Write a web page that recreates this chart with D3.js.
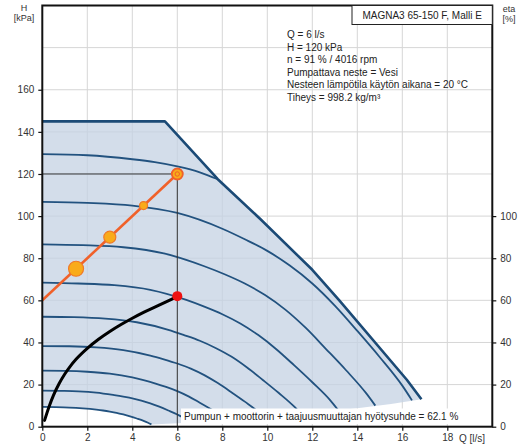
<!DOCTYPE html>
<html>
<head>
<meta charset="utf-8">
<script src="https://cdn.jsdelivr.net/npm/d3@7"></script>
<style>
  body { margin: 0; background: #fff; }
  svg { font-family: "Liberation Sans", Arial, sans-serif; }
</style>
</head>
<body>
<div id="chart"></div>
<script>
// tick values
const qTicks = [0, 2, 4, 6, 8, 10, 12, 14, 16, 18];
const hTicks = [0, 20, 40, 60, 80, 100, 120, 140, 160];
const etaTicks = [0, 20, 40, 60, 80, 100];
const qGrid = [2, 4, 6, 8, 10, 12, 14, 16, 18];
const hGrid = [20, 40, 60, 80, 100, 120, 140, 160, 180];

// max curve [Q, H]
const maxCurve = [[0, 145], [5.45, 145], [7.8, 117.5], [9.7, 98.5], [12, 74.5], [13.2, 60], [16.2, 22.3], [16.85, 13]];

// speed curves [Q, H], top to bottom
const curveA = [[0, 129.4], [2, 128.9], [4, 127], [5, 125.6], [6, 123.6], [7, 120.8], [7.8, 117.5]];
const curveB = [[0, 106.8], [2, 106.3], [4, 105], [6, 101.5], [8, 94], [9, 89], [10, 83.5], [11, 76.5],
  [12, 68], [13, 57.5], [14, 45.5], [15, 33], [16, 19.5], [16.43, 12.5]];
const curveC = [[0, 86.6], [1.8, 86.2], [3.6, 85.2], [5.4, 82.3], [7.2, 76.2], [8.1, 72.4], [9, 68], [9.9, 62.5],
  [10.8, 55.6], [11.7, 47], [12.6, 37], [13.5, 26.8], [14.4, 15.8], [14.8, 10]];
const curveD = [[0, 68.4], [1.6, 68], [3.2, 67.2], [4.8, 65], [6.4, 60.2], [7.2, 57], [8, 53.4], [8.8, 49],
  [9.6, 43.5], [10.4, 36.8], [11.2, 29.1], [12, 21.1], [12.8, 12.5], [13.14, 8]];
const curveE = [[0, 52.2], [1.4, 52], [2.8, 51.3], [4.2, 49.6], [5.6, 46], [6.3, 43.5], [7, 40.8], [7.7, 37.4],
  [8.4, 33.3], [9.1, 28.1], [9.8, 22.2], [10.5, 16.1], [11.2, 9.5], [11.5, 6.1]];
const curveF = [[0, 38.3], [1.2, 38.2], [2.4, 37.7], [3.6, 36.4], [4.8, 33.8], [5.4, 32], [6, 30], [6.6, 27.6],
  [7.2, 24.5], [7.8, 20.7], [8.4, 16.4], [9, 11.9], [9.6, 7], [9.84, 4.4]];
const curveG = [[0, 26.6], [1, 26.5], [2, 26.1], [3, 25.2], [4, 23.4], [4.5, 22.1], [5, 20.6], [5.5, 18.9],
  [6, 16.9], [6.5, 14.4], [7, 11.4], [7.5, 8.3], [8, 5], [8.2, 3.1]];
const curveH = [[0, 17.1], [0.8, 17], [1.6, 16.8], [2.4, 16.2], [3.2, 15], [3.6, 14.3], [4, 13.5], [4.4, 12.4],
  [4.8, 11.1], [5.2, 9.5], [5.6, 7.7], [6, 5.8], [6.4, 3.5], [6.6, 2]];
const curveI = [[0, 9.4], [0.6, 9.3], [1.2, 9.1], [1.8, 8.7], [2.4, 8.1], [2.7, 7.7], [3, 7.2], [3.3, 6.6],
  [3.6, 5.8], [3.9, 4.9], [4.2, 3.9], [4.5, 2.8], [4.7, 1.9], [4.85, 1.1]];

// lower boundary of the operating range [Q, H]
const lowerBound = [[4.85, 1.1], [6, 1.6], [8, 2.9], [10, 4.5], [12, 6.4], [14, 8.8], [15.5, 10.8], [16.85, 13]];

// efficiency curve [Q, eta]
const etaCurve = [[0.1, 3], [0.3, 9.5], [0.5, 15], [0.75, 20.5], [1, 25], [1.25, 28.8], [1.5, 32], [2, 37.2],
  [2.5, 41.5], [3, 45.2], [3.5, 48.5], [4, 51.5], [4.5, 54.3], [5, 56.8], [5.5, 59.3], [6, 61.8]];

// system curve and load profile points [Q, H]
const systemCurve = [[0, 60], [6, 120]];
const loadPoints = [[1.5, 75], [3, 90], [4.5, 105]];
const dutyPoint = [6, 120];
const etaPoint = [6, 62];

const title = "MAGNA3 65-150 F, Malli E";
const infoLines = [
  "Q = 6 l/s",
  "H = 120 kPa",
  "n = 91 % / 4016 rpm",
  "Pumpattava neste = Vesi",
  "Nesteen lämpötila käytön aikana = 20 °C",
  "Tiheys = 998.2 kg/m³"
];
const footText = "Pumpun + moottorin + taajuusmuuttajan hyötysuhde = 62.1 %";

// dimensions
const W = 524, H = 448;
const margin = { top: 5.5, right: 31.7, bottom: 21.3, left: 42.3 };

const x = d3.scaleLinear().domain([0, 20]).range([margin.left, W - margin.right]);
const y = d3.scaleLinear().domain([0, 200]).range([H - margin.bottom, margin.top]);

const svg = d3.select("#chart").append("svg")
    .attr("width", W)
    .attr("height", H);

svg.append("defs").append("clipPath").attr("id", "plot")
    .append("rect")
    .attr("x", x(0)).attr("y", y(200))
    .attr("width", x(20) - x(0)).attr("height", y(0) - y(200));

// grid
const grid = svg.append("g").attr("stroke", "#d6d6d6").attr("stroke-width", 1);
grid.selectAll(".gx").data(qGrid).join("line")
    .attr("x1", d => x(d)).attr("x2", d => x(d))
    .attr("y1", y(0)).attr("y2", y(200));
grid.selectAll(".gy").data(hGrid).join("line")
    .attr("x1", x(0)).attr("x2", x(20))
    .attr("y1", d => y(d)).attr("y2", d => y(d));

const plot = svg.append("g").attr("clip-path", "url(#plot)");

// operating range
const rangePoly = maxCurve.concat(lowerBound.slice().reverse().slice(1), curveI.slice().reverse().slice(1));
const poly = d3.line().x(d => x(d[0])).y(d => y(d[1]));
plot.append("path")
    .attr("d", poly(rangePoly) + "Z")
    .attr("fill", "#c4d2e3")
    .attr("fill-opacity", 0.75);

const smooth = d3.line().x(d => x(d[0])).y(d => y(d[1])).curve(d3.curveMonotoneX);

// speed curves
[curveA, curveB, curveC, curveD, curveE, curveF, curveG, curveH, curveI].forEach(c => {
    plot.append("path")
        .attr("d", smooth(c))
        .attr("fill", "none")
        .attr("stroke", "#22527f")
        .attr("stroke-width", 1.8);
});

// max curve
plot.append("path")
    .attr("d", poly(maxCurve))
    .attr("fill", "none")
    .attr("stroke", "#1b4a76")
    .attr("stroke-width", 2.6)
    .attr("stroke-linejoin", "round");

// duty point guide lines
plot.append("path")
    .attr("d", `M${x(0)},${y(dutyPoint[1])}H${x(dutyPoint[0])}V${y(0)}`)
    .attr("fill", "none")
    .attr("stroke", "#333")
    .attr("stroke-width", 1);

// efficiency curve
plot.append("path")
    .attr("d", smooth(etaCurve))
    .attr("fill", "none")
    .attr("stroke", "#000")
    .attr("stroke-width", 3)
    .attr("stroke-linecap", "round");

plot.append("circle")
    .attr("cx", x(etaPoint[0])).attr("cy", y(etaPoint[1]))
    .attr("r", 5)
    .attr("fill", "#ee1111");

// system curve
plot.append("path")
    .attr("d", poly(systemCurve))
    .attr("fill", "none")
    .attr("stroke", "#f0612a")
    .attr("stroke-width", 2.6);

const loadR = [7.5, 6, 4];
plot.selectAll(".load").data(loadPoints).join("circle")
    .attr("cx", d => x(d[0])).attr("cy", d => y(d[1]))
    .attr("r", (d, i) => loadR[i])
    .attr("fill", "#f9ab1a")
    .attr("stroke", "#f07a28")
    .attr("stroke-width", 1.2);

plot.append("circle")
    .attr("cx", x(dutyPoint[0])).attr("cy", y(dutyPoint[1]))
    .attr("r", 5.5)
    .attr("fill", "#f9ab1a")
    .attr("stroke", "#f0612a")
    .attr("stroke-width", 1.8);
plot.append("circle")
    .attr("cx", x(dutyPoint[0])).attr("cy", y(dutyPoint[1]))
    .attr("r", 2.2)
    .attr("fill", "none")
    .attr("stroke", "#f0612a")
    .attr("stroke-width", 1);

// footer text
svg.append("rect")
    .attr("x", 181).attr("y", 408.5)
    .attr("width", 297).attr("height", 15.5)
    .attr("fill", "#fff");
svg.append("text")
    .attr("x", 184).attr("y", 420)
    .attr("font-size", 10)
    .attr("fill", "#222")
    .text(footText);

// axes
const axisStyle = g => {
    g.select(".domain").remove();
    g.selectAll(".tick line").attr("stroke", "#111").attr("stroke-width", 1.2);
    g.selectAll(".tick text").attr("fill", "#333").attr("font-size", 10)
        .attr("font-family", "Liberation Sans, Arial, sans-serif");
};

svg.append("g")
    .attr("transform", `translate(${x(0)},0)`)
    .call(d3.axisLeft(y).tickValues(hTicks).tickSize(4).tickPadding(4))
    .call(axisStyle);

svg.append("g")
    .attr("transform", `translate(${x(20)},0)`)
    .call(d3.axisRight(y).tickValues(etaTicks).tickSize(4).tickPadding(4))
    .call(axisStyle);

svg.append("g")
    .attr("transform", `translate(0,${y(0)})`)
    .call(d3.axisBottom(x).tickValues(qTicks).tickSize(4).tickPadding(3))
    .call(axisStyle);

// frame
svg.append("rect")
    .attr("x", x(0)).attr("y", y(200))
    .attr("width", x(20) - x(0)).attr("height", y(0) - y(200))
    .attr("fill", "none")
    .attr("stroke", "#111")
    .attr("stroke-width", 2);

// title box
svg.append("rect")
    .attr("x", 352).attr("y", y(200))
    .attr("width", x(20) - 352).attr("height", 19)
    .attr("fill", "#fff")
    .attr("stroke", "#222")
    .attr("stroke-width", 1);
svg.append("text")
    .attr("x", (352 + x(20)) / 2).attr("y", 18.5)
    .attr("text-anchor", "middle")
    .attr("font-size", 10)
    .attr("fill", "#222")
    .text(title);

// info text
svg.append("g").selectAll("text").data(infoLines).join("text")
    .attr("x", 287)
    .attr("y", (d, i) => 38 + i * 12.6)
    .attr("font-size", 10)
    .attr("fill", "#222")
    .text(d => d);

// axis titles
const labels = svg.append("g").attr("font-size", 9).attr("fill", "#333").attr("text-anchor", "middle");
labels.append("text").attr("x", 24).attr("y", 11).text("H");
labels.append("text").attr("x", 24).attr("y", 21).text("[kPa]");
labels.append("text").attr("x", 509).attr("y", 12).text("eta");
labels.append("text").attr("x", 509).attr("y", 22).text("[%]");
svg.append("text")
    .attr("x", 459).attr("y", 441.5)
    .attr("font-size", 10)
    .attr("fill", "#333")
    .text("Q [l/s]");
</script>
</body>
</html>
